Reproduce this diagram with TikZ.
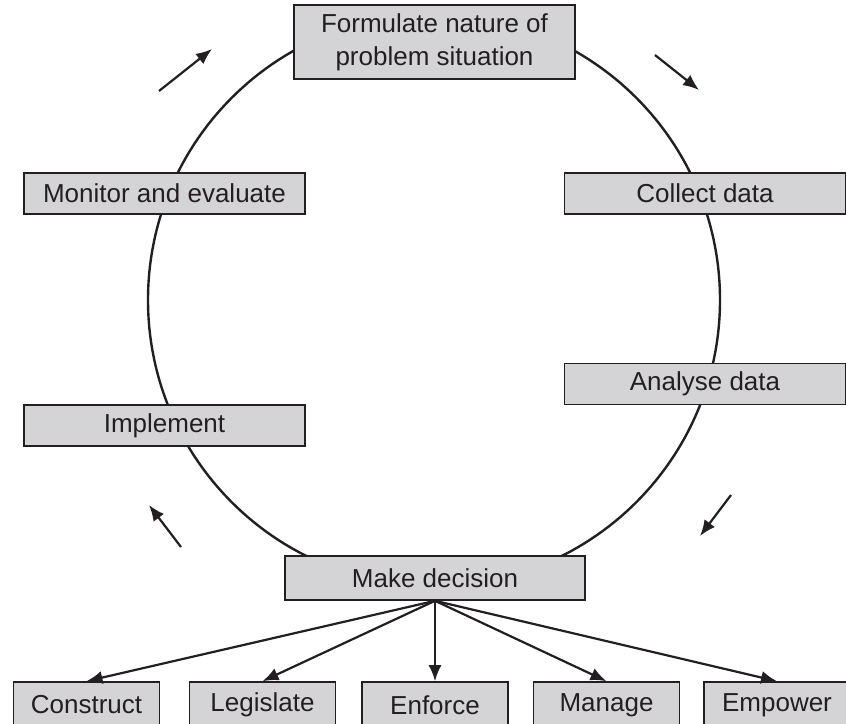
\documentclass[tikz,border=0pt]{standalone}
\usepackage{fontspec}
\setmainfont{Liberation Sans}
\usetikzlibrary{arrows.meta}

\definecolor{boxgray}{RGB}{212,212,214}
\definecolor{inkgray}{RGB}{35,31,32}

\begin{document}
\begin{tikzpicture}[x=1pt,y=-1pt,
    stage/.style={draw=inkgray, fill=boxgray, line width=1.6pt, inner sep=0pt,
        minimum width=281pt, minimum height=41pt, text=inkgray,
        font=\fontsize{26}{33}\selectfont},
    action/.style={stage, minimum width=146pt, minimum height=46pt},
    flow/.style={line width=2.2pt, draw=inkgray, -{Latex[length=16pt,width=13pt]}}]
    % Canvas of the reference
    \useasboundingbox (0,0) rectangle (846,723);

    % The cycle
    \draw[line width=2.4pt, inkgray] (434,300) circle[radius=286pt];

    % Stages round the cycle
    \node[stage, minimum height=74pt, align=center] (formulate) at (434.5,42)
        {Formulate nature of\\problem situation};
    \node[stage] (collect) at (705,193.5) {Collect data};
    \node[stage] (analyse) at (705,384) {Analyse data};
    \node[stage, minimum width=300pt, minimum height=44pt] (decide) at (435,578) {Make decision};
    \node[stage] (implement) at (164.5,425.5) {Implement};
    \node[stage] (monitor) at (164.5,193.5) {Monitor and evaluate};

    % Kinds of decision
    \node[action] (construct) at (86.5,705) {Construct};
    \node[action] (legislate) at (262.5,705) {Legislate};
    \node[action] (enforce) at (435,705) {Enforce};
    \node[action] (manage) at (606.5,705) {Manage};
    \node[action] (empower) at (777,705) {Empower};

    \foreach \kind in {construct,legislate,enforce,manage,empower}
        \draw[flow] (decide.south) -- (\kind.north);

    % Direction of the cycle (free arrows)
    \coordinate (tlA) at (159,91);  \coordinate (tlB) at (212,49);
    \coordinate (trA) at (655,55);  \coordinate (trB) at (699,90);
    \coordinate (brA) at (731,495); \coordinate (brB) at (700,536);
    \coordinate (blA) at (181,547); \coordinate (blB) at (149,505);
    \draw[flow] (tlA) -- (tlB);
    \draw[flow] (trA) -- (trB);
    \draw[flow] (brA) -- (brB);
    \draw[flow] (blA) -- (blB);
\end{tikzpicture}
\end{document}
